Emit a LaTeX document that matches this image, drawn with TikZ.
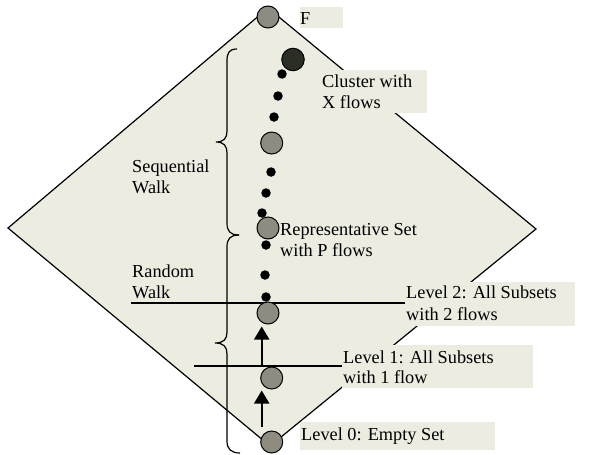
\documentclass[tikz,border=0pt]{standalone}
\usepackage{fontspec}
\setmainfont{Liberation Serif}
\usetikzlibrary{arrows.meta}
\definecolor{bgfill}{RGB}{236,236,224}
\definecolor{gfill}{RGB}{142,140,128}
\definecolor{dfill}{RGB}{43,46,37}
\tikzset{
  diam/.style={draw=black, line width=1.2pt, fill=bgfill, line join=miter},
  tbox/.style={fill=bgfill, inner sep=0pt, anchor=north west},
  lbl/.style={inner sep=0pt, anchor=base west, font=\fontsize{18.3}{21}\selectfont},
  gcirc/.style={circle, draw=black, line width=1pt, fill=gfill, minimum size=22pt, inner sep=0pt},
  dcirc/.style={circle, draw=black, line width=1pt, fill=dfill, minimum size=22.5pt, inner sep=0pt},
  bdot/.style={circle, fill=black, minimum size=9.5pt, inner sep=0pt},
  hline/.style={line width=1.2pt},
  uparrow/.style={line width=2.2pt, -{Triangle[width=15pt,length=13pt]}},
  bracestyle/.style={line width=1.2pt}
}
\begin{document}
\begin{tikzpicture}[x=1pt,y=-1pt]
\useasboundingbox (0,0) rectangle (589,455);
\fill[white] (0,0) rectangle (589,455);
% diamond
\draw[diam] (268,8) -- (536,229) -- (270,446) -- (8,228) -- cycle;
% text boxes
\node[tbox, minimum width=43pt, minimum height=21pt] (bF) at (300,7) {};
\node[tbox, minimum width=107pt, minimum height=43pt] (bC) at (320,70) {};
\node[tbox, minimum width=170pt, minimum height=44pt] (b2) at (405,282) {};
\node[tbox, minimum width=191pt, minimum height=43pt] (b1) at (342,345) {};
\node[tbox, minimum width=195pt, minimum height=28pt] (b0) at (300,422) {};
% horizontal level lines
\coordinate (h2a) at (131,303);
\coordinate (h1a) at (194,366);
\draw[hline] (h2a) -- (b2.west |- h2a);
\draw[hline] (h1a) -- (b1.west |- h1a);
% braces
\draw[bracestyle] (237,49) .. controls (229,49) and (227,53) .. (227,61) -- (227,131)
  .. controls (227,138) and (224,142) .. (216,142)
  .. controls (224,142) and (227,146) .. (227,153) -- (227,223)
  .. controls (227,231) and (230,235) .. (239,235);
\draw[bracestyle] (239,235) .. controls (230,235) and (227,239) .. (227,247) -- (227,332)
  .. controls (227,339) and (224,343) .. (215,343)
  .. controls (224,343) and (227,347) .. (227,354) -- (227,441)
  .. controls (227,449) and (231,453) .. (240,453);
% dots
\foreach \i/\px/\py in {1/282/74, 2/278/96, 3/274/117, 4/271/172, 5/266/193, 6/262/213, 7/266/245, 8/265/275, 9/266/297}
  \node[bdot] (d\i) at (\px,\py) {};
% circles
\node[gcirc] (top) at (268,17) {};
\node[dcirc] (clu) at (293,59.5) {};
\node[gcirc] (seq) at (271.7,143) {};
\node[gcirc] (rep) at (268,228) {};
\node[gcirc] (L2) at (268,313) {};
\node[gcirc] (L1) at (271.7,378) {};
\node[gcirc] (L0) at (271.7,442) {};
% arrows
\draw[uparrow] ([xshift=-10pt,yshift=4pt]L0.north) -- ([xshift=-10pt,yshift=-1pt]L1.south);
\draw[uparrow] ([xshift=-10pt]L1.north) -- ([xshift=-6.3pt,yshift=-2pt]L2.south);
% labels
\node[lbl] (tF) at (300,24) {F};
\node[lbl] (tC1) at (322,87) {Cluster with};
\node[lbl] (tC2) at (322,108) {X flows};
\node[lbl] (tS1) at (132,172) {Sequential};
\node[lbl] (tS2) at (132,193) {Walk};
\node[lbl] (tR1) at (280,235) {Representative Set};
\node[lbl] (tR2) at (280,256) {with P flows};
\node[lbl] (tW1) at (132,277) {Random};
\node[lbl] (tW2) at (132,298) {Walk};
\node[lbl] (t21) at (406,298) {Level 2: All Subsets};
\node[lbl] (t22) at (406,320) {with 2 flows};
\node[lbl] (t11) at (343,363) {Level 1: All Subsets};
\node[lbl] (t12) at (343,383) {with 1 flow};
\node[lbl] (t0) at (301,440) {Level 0: Empty Set};
\end{tikzpicture}
\end{document}
